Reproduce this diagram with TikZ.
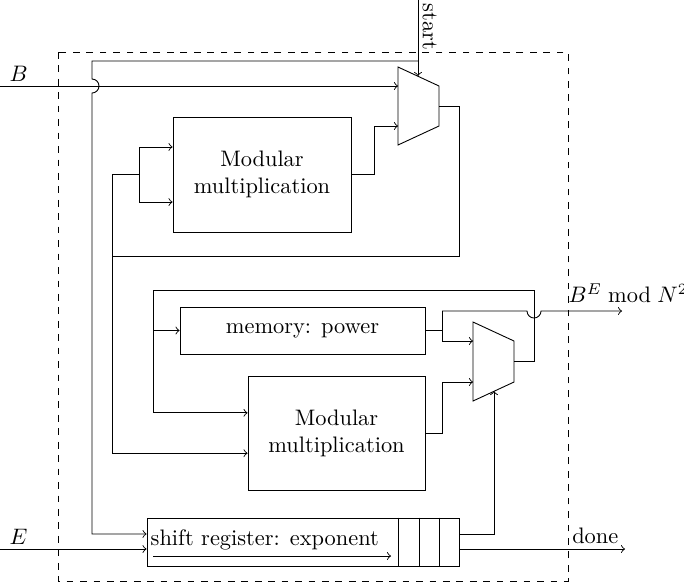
\documentclass[tikz,border=0pt]{standalone}
\usepackage{amsmath}
\usetikzlibrary{calc}
\newcommand{\pxu}{0.4464pt}

\begin{document}
\begin{tikzpicture}[
    x=\pxu, y=-\pxu,
    block/.style={draw, align=center, inner sep=2pt},
    arrow/.style={->},
    boundary/.style={draw, dashed},
    tag/.style={inner sep=1pt}
]
\useasboundingbox (0,0) rectangle (684,587);

% Boundary
\draw[boundary] (58,52) rectangle (568,581);

% Blocks
\node[block, minimum width=178*\pxu, minimum height=115*\pxu] (mulA) at (262,174.5) {Modular\\multiplication};
\node[block, minimum width=177*\pxu, minimum height=114*\pxu] (mulB) at (336.5,433) {Modular\\multiplication};
\node[block, minimum width=245*\pxu, minimum height=47*\pxu] (mem) at (302.5,330.5) {memory: power};
\node[block, minimum width=312*\pxu, minimum height=48*\pxu] (sreg) at (303,542) {};

% Shift register cells
\node[anchor=base west, inner sep=1pt] (sregTxt) at (148,545) {shift register: exponent};
\foreach \cx in {398,419,439}
    \draw (\cx,0 |- sreg.north) -- (\cx,0 |- sreg.south);
\draw[arrow] (153,556) -- (391,556);

% Multiplexers
\draw (398,67) coordinate (muxA) -- ++(41,19) -- ++(0,40) -- ++(-41,19) -- cycle;
\coordinate (muxA-in1) at (398,86);
\coordinate (muxA-in2) at (398,126);
\coordinate (muxA-out) at (439,106);
\coordinate (muxA-sel) at (418,76);

\draw (473,322) coordinate (muxB) -- ++(41,19) -- ++(0,41) -- ++(-41,19) -- cycle;
\coordinate (muxB-in1) at (473,341);
\coordinate (muxB-in2) at (473,382);
\coordinate (muxB-out) at (514,361.5);
\coordinate (muxB-sel) at (494,391);

% Ports
\coordinate (inB) at (0,86);
\coordinate (inE) at (0,549);
\coordinate (inStart) at (418,0);
\coordinate (outPow) at (622,311);
\coordinate (outDone) at (625,549);

% Junctions
\coordinate (jStart) at (418,61);
\coordinate (jFb) at (112,256);
\coordinate (jTop) at (153,290);

% Inputs
\draw[arrow] (inB) -- (muxA-in1);
\node[anchor=south west, tag] (lblB) at (7,84) {$B$};
\draw[arrow] (inStart) -- (muxA-sel);
\node[rotate=-90, anchor=south west, tag] (lblStart) at (420,1) {start};
\draw[arrow] (inE) -- (inE -| sreg.west);
\node[anchor=south west, tag] (lblE) at (7,547) {$E$};

% Start to shift register
\draw[arrow] (jStart) -- (92,61) -- (92,79) arc[start angle=90, end angle=-90, radius=7*\pxu]
    |- ([yshift=3.6pt]sreg.west);

% Upper loop
\draw[arrow] (mulA.east) -- ++(23,0) |- (muxA-in2);
\draw (muxA-out) -- ++(20,0) |- (jFb);
\draw[arrow] (jFb |- mulA.west) -- ++(27,0) |- ([yshift=12.3pt]mulA.west);
\draw[arrow] (jFb |- mulA.west) ++(27,0) |- ([yshift=-12.3pt]mulA.west);
\draw[arrow] (jFb |- mulA.west) |- ([yshift=-9pt]mulB.west);

% Lower loop
\draw (muxB-out) -- ++(20,0) |- (jTop);
\draw[arrow] (jTop) |- ([yshift=9pt]mulB.west);
\draw[arrow] (jTop |- mem.west) -- (mem.west);
\draw[arrow] (mem.east) -- ++(17,0) coordinate (jMem) |- (muxB-in1);
\draw[arrow] (mulB.east) -- ++(17,0) |- (muxB-in2);

% Outputs
\draw[arrow] (jMem) |- (527,311) arc[start angle=180, end angle=360, radius=7*\pxu] -- (outPow);
\node[anchor=south west, tag] (lblPow) at (566,305) {$B^E \bmod N^2$};
\draw[arrow] ([yshift=3.6pt]sreg.east) -| (muxB-sel);
\draw[arrow] (sreg.east |- outDone) -- (outDone);
\node[anchor=south east, tag] (lblDone) at (621,546) {done};

\end{tikzpicture}
\end{document}
